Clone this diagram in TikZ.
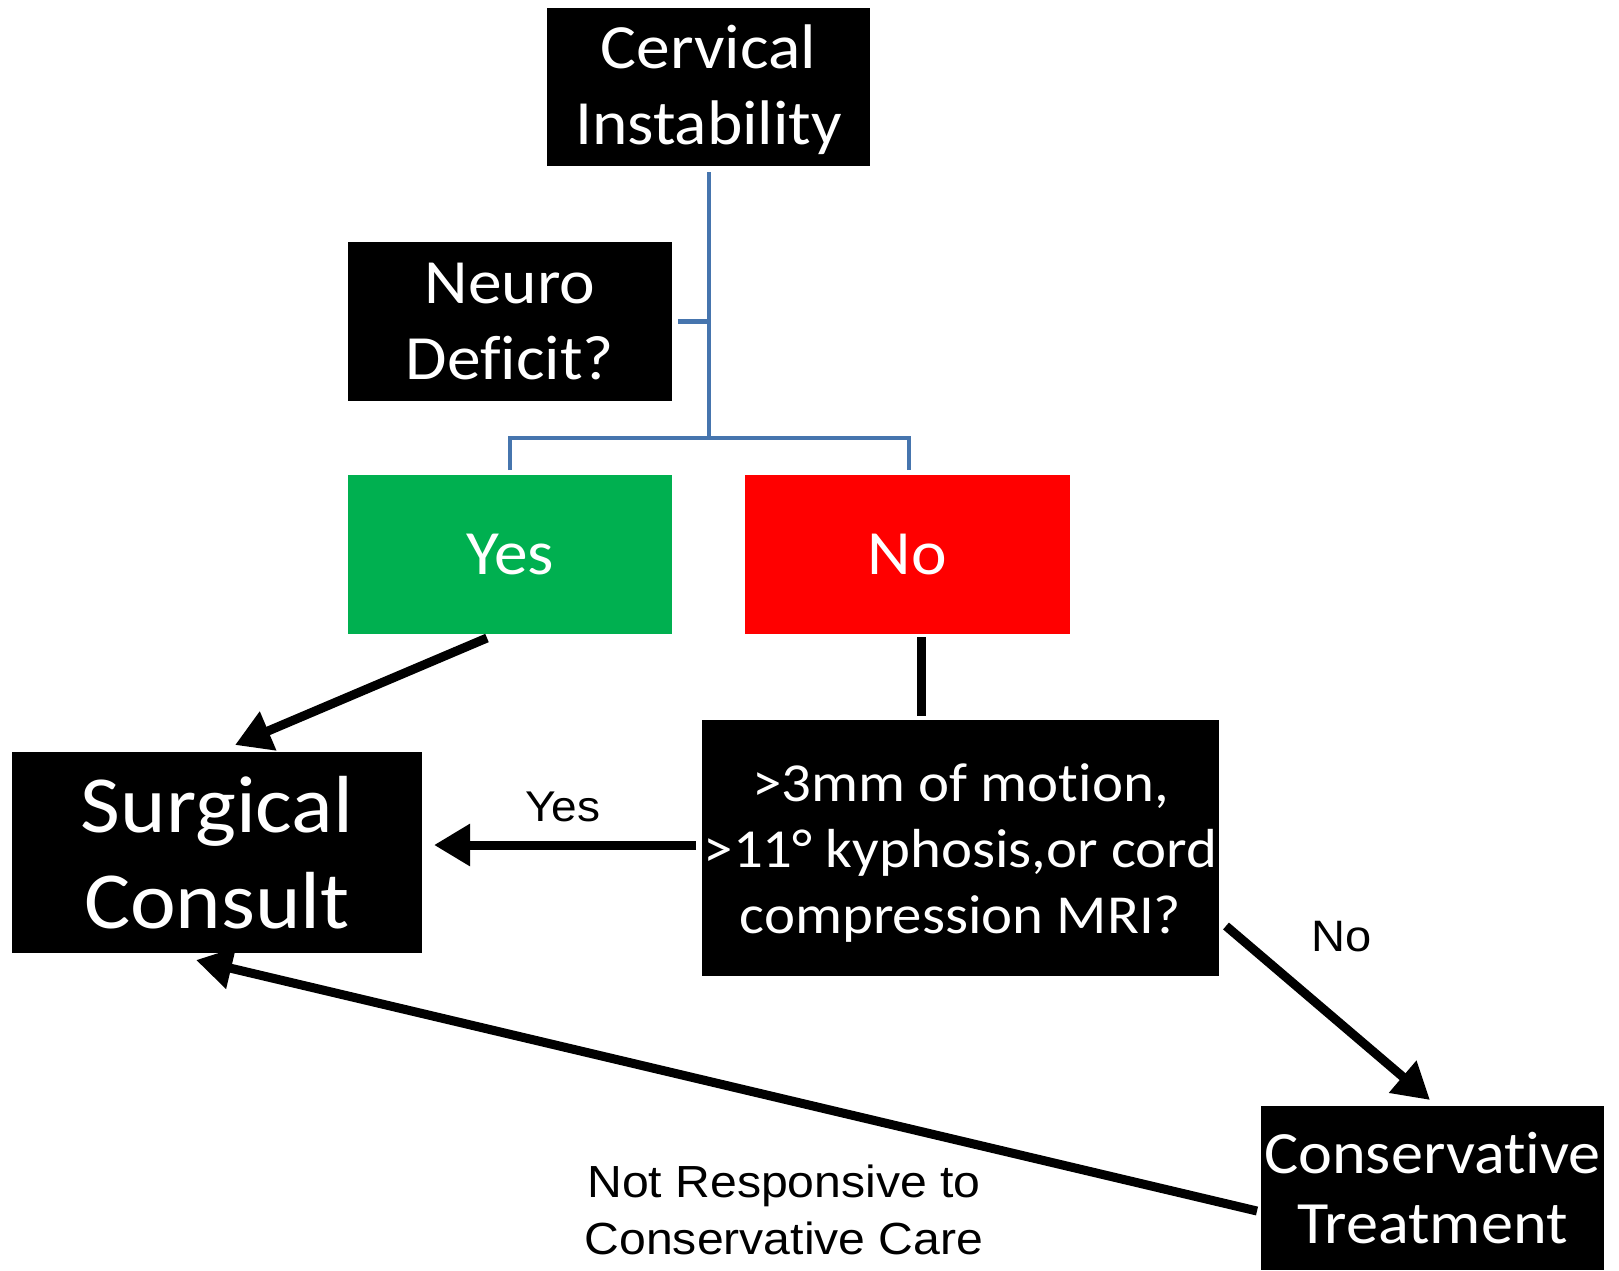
\documentclass[tikz,border=0pt]{standalone}
\usepackage{fontspec}
\setmainfont{Carlito}[FakeStretch=1.07,Ligatures=NoCommon]
\newfontfamily\arialf{Liberation Sans}[FakeStretch=1.07]
\usetikzlibrary{arrows.meta,calc}
\definecolor{boxgreen}{HTML}{00B050}
\definecolor{boxred}{HTML}{FF0000}
\definecolor{connblue}{HTML}{4675AE}
\begin{document}
\begin{tikzpicture}[x=1pt,y=-1pt,
  boxnode/.style={rectangle, fill=black, text=white, inner sep=0pt, outer sep=0pt, align=center},
  midfont/.style={font=\fontsize{63}{76}\selectfont},
  blueline/.style={draw=connblue, line width=4.5pt},
  thickline/.style={draw=black, line width=9pt},
  thickarrow/.style={thickline, -{Triangle[width=40pt,length=36pt]}},
  lbl/.style={text=black, align=center, inner sep=0pt}
]
\useasboundingbox (0,0) rectangle (1619,1270);
\node[boxnode, midfont, minimum width=323pt, minimum height=158pt] (cerv) at (708.5,87) {\raisebox{-3pt}[\height][\depth]{\parbox{320pt}{\centering Cervical\\Instability}}};
\node[boxnode, midfont, minimum width=324pt, minimum height=159pt] (neuro) at (510,321.5) {Neuro\\Deficit?};
\node[boxnode, midfont, fill=boxgreen, minimum width=324pt, minimum height=159pt] (yes) at (510,554.5) {Yes};
\node[boxnode, midfont, fill=boxred, minimum width=325pt, minimum height=159pt] (no) at (907.5,554.5) {No};
\node[boxnode, font=\fontsize{81}{96}\selectfont, minimum width=410pt, minimum height=201pt] (surg) at (217,852.5) {Surgical\\Consult};
\node[boxnode, font=\fontsize{55}{66}\selectfont, minimum width=517pt, minimum height=256pt] (q) at (960.5,848) {\raisebox{-5pt}[\height][\depth]{\parbox{515pt}{\centering >3mm of motion,\\>11° kyphosis,or cord\\compression MRI?}}};
\node[boxnode, font=\fontsize{60}{70}\selectfont, minimum width=343pt, minimum height=164pt] (cons) at (1432.5,1188) {Conservative\\Treatment};
\coordinate (jn) at (709,438);
\draw[blueline] ($(cerv.south)+(0.5,6)$) -- (jn);
\draw[blueline] ($(neuro.east)+(6,0)$) -- (neuro.east -| jn);
\draw[blueline] ($(yes.north)+(0,-5)$) -- (yes.north |- jn) -- ($(no.north |- jn)+(1.5,0)$) -- ($(no.north)+(1.5,-5)$);
\draw[thickarrow] ($(yes.south)+(-23,4)$) -- ($(surg.north)+(18,-7)$);
\draw[thickline] ($(no.south)+(13.5,3)$) -- ($(no.south |- q.north)+(13.5,-4)$);
\draw[thickarrow] ($(q.west)+(-6,-3)$) -- ($(surg.east)+(12,-7.5)$);
\node[lbl, font=\arialf\fontsize{43}{50}\selectfont] (ylbl) at (563,807) {Yes};
\draw[thickarrow] ($(q.east)+(7,78)$) -- ($(cons.north)+(-2.5,-6)$);
\node[lbl, font=\arialf\fontsize{44}{50}\selectfont] (nlbl) at (1342,937) {No};
\draw[thickarrow] ($(cons.west)+(-4,23)$) -- ($(surg.south)+(-21,7)$);
\node[lbl, font=\arialf\fontsize{45}{57}\selectfont] (nrlbl) at (784,1210) {Not Responsive to\\Conservative Care};
\end{tikzpicture}
\end{document}
